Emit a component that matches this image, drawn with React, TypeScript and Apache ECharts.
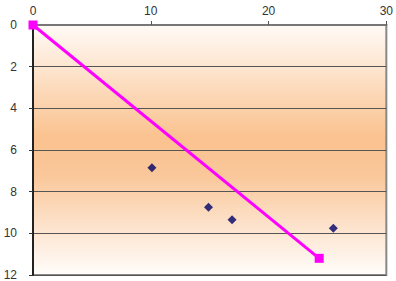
import React, { useEffect, useRef } from "react";
import * as echarts from "echarts";

const lineX = [0, 24.3];
const lineY = [0, 11.2];
const pointsX = [10.1, 14.9, 16.9, 25.5];
const pointsY = [6.85, 8.75, 9.35, 9.75];
const xTicks = [0, 10, 20, 30];
const yTicks = [0, 2, 4, 6, 8, 10, 12];

export default function App() {
  const ref = useRef<HTMLDivElement>(null);
  useEffect(() => {
    const chart = echarts.init(ref.current!, null, { renderer: "svg" });
    chart.setOption({
      animation: false,
      grid: {
        left: 33,
        right: 8,
        top: 25,
        bottom: 6,
        show: true,
        borderColor: "#888",
        borderWidth: 2,
        backgroundColor: new echarts.graphic.LinearGradient(0, 0, 0, 1, [
          { offset: 0, color: "#fffaf6" },
          { offset: 0.45, color: "#fac28f" },
          { offset: 0.6, color: "#fac79a" },
          { offset: 1, color: "#fffdfb" },
        ]),
      },
      xAxis: {
        type: "value",
        position: "top",
        min: xTicks[0],
        max: xTicks[xTicks.length - 1],
        interval: 10,
        axisLine: { show: true, lineStyle: { color: "#777", width: 2 } },
        axisTick: { show: true, length: 4, lineStyle: { color: "#555" } },
        axisLabel: { color: "#333", fontSize: 12, fontFamily: "Liberation Sans", margin: 8 },
        splitLine: { show: false },
      },
      yAxis: {
        type: "value",
        inverse: true,
        min: yTicks[0],
        max: yTicks[yTicks.length - 1],
        interval: 2,
        axisLine: { show: true, onZero: false, lineStyle: { color: "#000", width: 1.5 } },
        axisTick: { show: true, length: 4, lineStyle: { color: "#333" } },
        axisLabel: { color: "#333", fontSize: 12, fontFamily: "Liberation Sans", margin: 16, align: "right" },
        splitLine: { show: true, lineStyle: { color: "#555", width: 1 } },
      },
      series: [
        {
          type: "line",
          data: lineX.map((x, i) => [x, lineY[i]]),
          symbol: "rect",
          symbolSize: 9,
          lineStyle: { color: "#ff00ff", width: 3 },
          itemStyle: { color: "#ff00ff" },
          z: 3,
        },
        {
          type: "scatter",
          data: pointsX.map((x, i) => [x, pointsY[i]]),
          symbol: "diamond",
          symbolSize: 9,
          itemStyle: { color: "#000066" },
          z: 4,
        },
      ],
    });
    return () => chart.dispose();
  }, []);
  return (
    <div
      ref={ref}
      style={{ position: "fixed", left: 0, top: 0, width: 396, height: 281, background: "#fff" }}
    />
  );
}
